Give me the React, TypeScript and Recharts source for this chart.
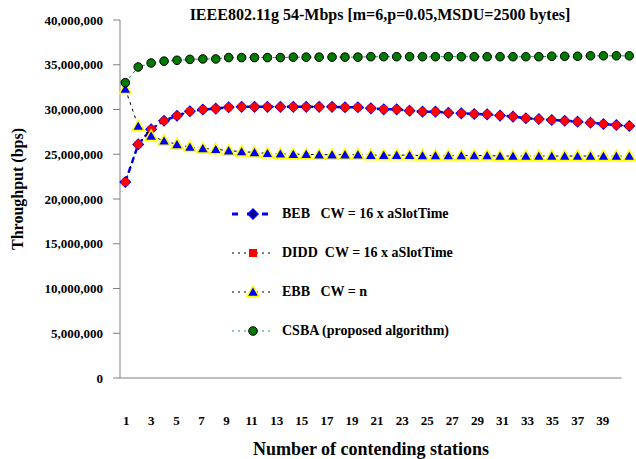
import { LineChart, Line, XAxis, YAxis, Legend, Label, ReferenceLine } from 'recharts'

const stations = [
  1, 2, 3, 4, 5, 6, 7, 8, 9, 10, 11, 12, 13, 14, 15, 16, 17, 18, 19, 20,
  21, 22, 23, 24, 25, 26, 27, 28, 29, 30, 31, 32, 33, 34, 35, 36, 37, 38, 39, 40,
]

const beb = [
  21900000, 26100000, 27800000, 28750000, 29300000, 29800000, 30000000, 30100000, 30250000, 30300000,
  30300000, 30300000, 30300000, 30300000, 30300000, 30300000, 30300000, 30250000, 30250000, 30130000,
  30020000, 30020000, 29870000, 29760000, 29760000, 29640000, 29570000, 29500000, 29460000, 29320000,
  29210000, 29020000, 28940000, 28830000, 28750000, 28640000, 28530000, 28380000, 28270000, 28160000,
]

const didd = [
  21900000, 26100000, 27800000, 28750000, 29300000, 29800000, 30000000, 30100000, 30250000, 30300000,
  30300000, 30300000, 30300000, 30300000, 30300000, 30300000, 30300000, 30250000, 30250000, 30130000,
  30020000, 30020000, 29870000, 29760000, 29760000, 29640000, 29570000, 29500000, 29460000, 29320000,
  29210000, 29020000, 28940000, 28830000, 28750000, 28640000, 28530000, 28380000, 28270000, 28160000,
]

const ebb = [
  32300000, 28150000, 27050000, 26500000, 26100000, 25800000, 25650000, 25550000, 25400000, 25300000,
  25200000, 25100000, 25050000, 25000000, 25000000, 24950000, 24950000, 24950000, 24950000, 24900000,
  24900000, 24900000, 24900000, 24850000, 24850000, 24850000, 24850000, 24850000, 24850000, 24800000,
  24800000, 24800000, 24800000, 24800000, 24800000, 24800000, 24800000, 24800000, 24800000, 24800000,
]

const csba = [
  33000000, 34750000, 35200000, 35400000, 35500000, 35600000, 35650000, 35650000, 35800000, 35800000,
  35800000, 35800000, 35800000, 35850000, 35850000, 35850000, 35850000, 35850000, 35850000, 35900000,
  35900000, 35900000, 35900000, 35900000, 35900000, 35900000, 35900000, 35900000, 35900000, 35900000,
  35900000, 35900000, 35900000, 35950000, 35950000, 35950000, 36000000, 36000000, 36000000, 36000000,
]

const yTicks = [0, 5000000, 10000000, 15000000, 20000000, 25000000, 30000000, 35000000, 40000000]
const xLabels = [1, 3, 5, 7, 9, 11, 13, 15, 17, 19, 21, 23, 25, 27, 29, 31, 33, 35, 37, 39]
// tick marks sit between the categories, like the old Excel chart
const xMarks = Array.from({ length: 41 }, (_, i) => i + 0.5)

const data = stations.map((n, i) => ({ n, beb: beb[i], didd: didd[i], ebb: ebb[i], csba: csba[i] }))

const FONT = "'Times New Roman', 'Liberation Serif', serif"
const AXIS = '#808080'

const series = [
  { key: 'beb', name: 'BEB   CW = 16 x aSlotTime', stroke: '#0000ff', width: 2.5, dash: '6 4', legendDash: '6 9', marker: 'diamond' },
  { key: 'didd', name: 'DIDD  CW = 16 x aSlotTime', stroke: '#000000', width: 1, dash: '2 3', legendDash: '2 4', marker: 'square' },
  { key: 'ebb', name: 'EBB   CW = n', stroke: '#000000', width: 1, dash: '3 4', legendDash: '2 4', marker: 'triangle' },
  { key: 'csba', name: 'CSBA (proposed algorithm)', stroke: '#1a9a5a', width: 1, dash: '3 3', legendDash: '2 4', marker: 'circle' },
]

function Marker({ type, cx, cy, legend }: { type: string; cx: number; cy: number; legend?: boolean }) {
  if (type === 'diamond') {
    const s = 5
    return (
      <path
        d={`M${cx},${cy - s}L${cx + s},${cy}L${cx},${cy + s}L${cx - s},${cy}Z`}
        fill="#000080"
        stroke="#0000ff"
        strokeWidth={1.5}
      />
    )
  }
  if (type === 'square') {
    if (legend) return <rect x={cx - 4} y={cy - 4} width={8} height={8} fill="#ff0000" />
    return <circle cx={cx} cy={cy} r={4.3} fill="#ff0000" />
  }
  if (type === 'triangle') {
    return (
      <path
        d={`M${cx},${cy - 6}L${cx + 6},${cy + 4.5}L${cx - 6},${cy + 4.5}Z`}
        fill="#0000ff"
        stroke="#ffff00"
        strokeWidth={1.5}
      />
    )
  }
  return <circle cx={cx} cy={cy} r={4.3} fill="#007a00" stroke="#000000" strokeWidth={1} />
}

function LegendBox() {
  return (
    <div style={{ fontFamily: FONT, fontWeight: 'bold', fontSize: 14 }}>
      {series.map((s) => (
        <div key={s.key} style={{ display: 'flex', alignItems: 'center', height: 39 }}>
          <svg width={42} height={14} style={{ overflow: 'visible' }}>
            <line x1={0} y1={7} x2={42} y2={7} stroke={s.stroke} strokeWidth={s.key === 'beb' ? 3 : 1} strokeDasharray={s.legendDash} />
            <Marker type={s.marker} cx={21} cy={7} legend />
          </svg>
          <span style={{ marginLeft: 8, whiteSpace: 'pre', color: '#000' }}>{s.name}</span>
        </div>
      ))}
    </div>
  )
}

function YTitle(props: any) {
  const { viewBox } = props
  const x = viewBox.x + 17
  const y = viewBox.y + viewBox.height / 2 - 10
  return (
    <text x={x} y={y} transform={`rotate(-90, ${x}, ${y})`} textAnchor="middle" dominantBaseline="central" fontSize={16} fill="#000">
      Throughput (bps)
    </text>
  )
}

function XTitle(props: any) {
  const { viewBox } = props
  return (
    <text x={viewBox.x + viewBox.width / 2 - 5} y={viewBox.y + viewBox.height + 2} textAnchor="middle" fontSize={18} fill="#000">
      Number of contending stations
    </text>
  )
}

export default function App() {
  return (
    <div style={{ position: 'absolute', left: 0, top: 0, width: 636, height: 459, background: '#fff', fontFamily: FONT, fontWeight: 'bold' }}>
      <div style={{ position: 'absolute', left: 380, top: 6, transform: 'translateX(-50%)', whiteSpace: 'nowrap', fontSize: 16, zIndex: 2 }}>
        IEEE802.11g 54-Mbps [m=6,p=0.05,MSDU=2500 bytes]
      </div>
      <LineChart width={636} height={459} data={data} margin={{ top: 20, right: 4, left: 0, bottom: 0 }}>
        <XAxis xAxisId="data" dataKey="n" type="number" domain={[0.59, 40.21]} height={0} hide />
        <XAxis
          xAxisId="marks"
          dataKey="n"
          type="number"
          domain={[0.5, 41.33]}
          allowDataOverflow
          ticks={xMarks}
          tick={false}
          axisLine={false}
          tickLine={{ stroke: AXIS }}
          tickSize={6}
          height={6}
        />
        <XAxis
          xAxisId="labels"
          dataKey="n"
          type="number"
          domain={[0.5, 41.33]}
          allowDataOverflow
          ticks={xLabels}
          axisLine={false}
          tickLine={false}
          tickMargin={32}
          height={75}
          tick={{ fill: '#000', fontSize: 13 }}
        >
          <Label content={XTitle} />
        </XAxis>
        <YAxis
          width={120}
          domain={[0, 40000000]}
          ticks={yTicks}
          tickFormatter={(v: number) => v.toLocaleString('en-US')}
          axisLine={{ stroke: AXIS }}
          tickLine={{ stroke: AXIS }}
          tickSize={7}
          tickMargin={10}
          tick={{ fill: '#000', fontSize: 13 }}
        >
          <Label content={YTitle} />
        </YAxis>
        <ReferenceLine
          xAxisId="marks"
          segment={[{ x: 0.5, y: 0 }, { x: 40.5, y: 0 }]}
          stroke={AXIS}
          ifOverflow="visible"
        />
        {series.map((s) => (
          <Line
            key={s.key}
            xAxisId="data"
            dataKey={s.key}
            name={s.name}
            stroke={s.stroke}
            strokeWidth={s.width}
            strokeDasharray={s.dash}
            isAnimationActive={false}
            activeDot={false}
            dot={(p: any) => <Marker key={`${s.key}-${p.index}`} type={s.marker} cx={p.cx} cy={p.cy} />}
          />
        ))}
        <Legend
          layout="vertical"
          align="center"
          verticalAlign="middle"
          content={() => <LegendBox />}
          wrapperStyle={{ position: 'absolute', left: 232, top: 194, width: 330 }}
        />
      </LineChart>
    </div>
  )
}
